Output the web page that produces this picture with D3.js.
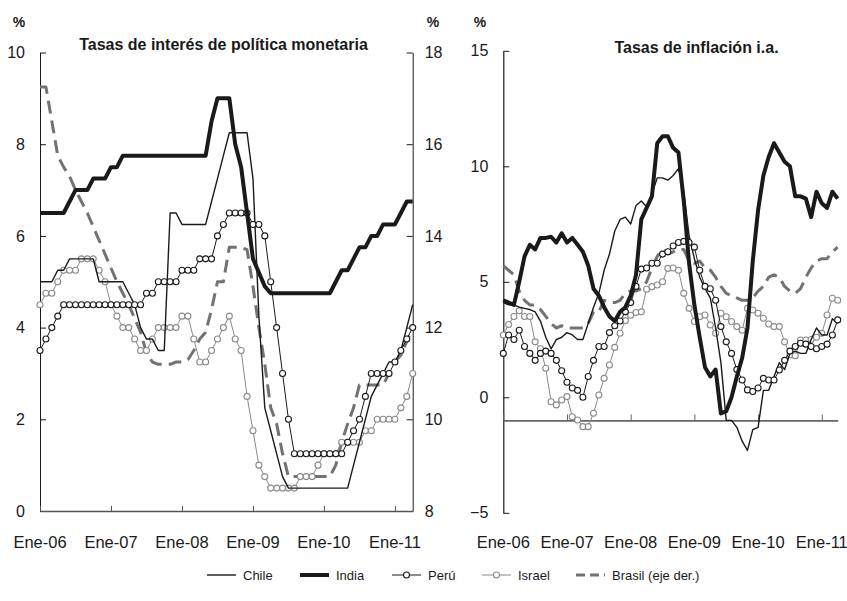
<!DOCTYPE html>
<html>
<head>
<meta charset="utf-8">
<script src="https://cdn.jsdelivr.net/npm/d3@7"></script>
<style>
  body { margin: 0; background: #fff; }
  svg { display: block; font-family: "Liberation Sans", Arial, sans-serif; }
</style>
</head>
<body>
<svg id="chart" width="847" height="601"></svg>
<script>
// Monthly observations, index 0 = Jan-2006 ... 63 = Apr-2011
const xTickMonths = [0, 12, 24, 36, 48, 60];
const xTickLabels = ["Ene-06", "Ene-07", "Ene-08", "Ene-09", "Ene-10", "Ene-11"];
const rateTicksLeft = [0, 2, 4, 6, 8, 10];
const rateTicksRight = [8, 10, 12, 14, 16, 18];
const inflationTicks = [-5, 0, 5, 10, 15];

const seriesNames = ["Chile", "India", "Perú", "Israel", "Brasil (eje der.)"];

// Policy rates (%)
const chileRate = [
  5.0, 5.0, 5.0, 5.25, 5.25, 5.5, 5.5, 5.5, 5.5, 5.5, 5.0, 5.0,
  5.0, 5.0, 5.0, 4.75, 4.5, 4.0, 3.75, 3.75, 3.5, 3.5, 6.5, 6.5,
  6.25, 6.25, 6.25, 6.25, 6.25, 6.75, 7.25, 7.75, 8.25, 8.25, 8.25, 8.25,
  7.25, 4.25, 2.25, 1.75, 1.25, 0.75, 0.5, 0.5, 0.5, 0.5, 0.5, 0.5,
  0.5, 0.5, 0.5, 0.5, 0.5, 1.0, 1.5, 2.0, 2.5, 2.75, 3.0, 3.25,
  3.25, 3.5, 4.0, 4.5
];
const indiaRate = [
  6.5, 6.5, 6.5, 6.5, 6.5, 6.75, 7.0, 7.0, 7.0, 7.25, 7.25, 7.25,
  7.5, 7.5, 7.75, 7.75, 7.75, 7.75, 7.75, 7.75, 7.75, 7.75, 7.75, 7.75,
  7.75, 7.75, 7.75, 7.75, 7.75, 8.5, 9.0, 9.0, 9.0, 8.0, 7.5, 6.5,
  5.5, 5.2, 4.9, 4.75, 4.75, 4.75, 4.75, 4.75, 4.75, 4.75, 4.75, 4.75,
  4.75, 4.75, 5.0, 5.25, 5.25, 5.5, 5.75, 5.75, 6.0, 6.0, 6.25, 6.25,
  6.25, 6.5, 6.75, 6.75
];
const peruRate = [
  3.5, 3.75, 4.0, 4.25, 4.5, 4.5, 4.5, 4.5, 4.5, 4.5, 4.5, 4.5,
  4.5, 4.5, 4.5, 4.5, 4.5, 4.5, 4.75, 4.75, 5.0, 5.0, 5.0, 5.0,
  5.25, 5.25, 5.25, 5.5, 5.5, 5.5, 6.0, 6.25, 6.5, 6.5, 6.5, 6.5,
  6.25, 6.25, 6.0, 5.0, 4.0, 3.0, 2.0, 1.25, 1.25, 1.25, 1.25, 1.25,
  1.25, 1.25, 1.25, 1.25, 1.5, 1.75, 2.0, 2.5, 3.0, 3.0, 3.0, 3.0,
  3.25, 3.5, 3.75, 4.0
];
const israelRate = [
  4.5, 4.75, 4.75, 5.0, 5.25, 5.25, 5.25, 5.5, 5.5, 5.5, 5.25, 5.0,
  4.5, 4.25, 4.0, 4.0, 3.75, 3.5, 3.5, 3.75, 4.0, 4.0, 4.0, 4.0,
  4.25, 4.25, 3.75, 3.25, 3.25, 3.5, 3.75, 4.0, 4.25, 3.75, 3.5, 2.5,
  1.75, 1.0, 0.75, 0.5, 0.5, 0.5, 0.5, 0.5, 0.75, 0.75, 0.75, 1.0,
  1.25, 1.25, 1.25, 1.5, 1.5, 1.5, 1.5, 1.75, 1.75, 2.0, 2.0, 2.0,
  2.0, 2.25, 2.5, 3.0
];
const brasilRate = [
  17.25, 17.25, 16.5, 15.75, 15.5, 15.3, 15.0, 14.75, 14.5, 14.2, 13.9, 13.6,
  13.3, 13.0, 12.75, 12.5, 12.2, 11.9, 11.45, 11.25, 11.2, 11.2, 11.2, 11.25,
  11.25, 11.3, 11.5, 11.75, 11.9, 12.4, 13.0, 13.0, 13.75, 13.75, 13.75, 13.7,
  12.9, 12.0, 11.2, 10.25, 9.9, 9.25, 8.75, 8.75, 8.75, 8.75, 8.75, 8.75,
  8.75, 8.75, 9.0, 9.5, 9.9, 10.25, 10.75, 10.75, 10.75, 10.75, 10.75, 11.0,
  11.25, 11.4, 11.7, 12.0
];

// Year-on-year inflation (%)
const chileInfl = [
  4.1, 4.0, 4.0, 3.9, 3.85, 3.8, 3.7, 3.3, 2.6, 2.1, 2.5, 2.6,
  2.8, 2.7, 2.5, 2.5, 3.2, 3.9, 4.5, 5.5, 6.2, 7.2, 7.7, 7.8,
  7.5, 8.3, 8.5, 8.25, 8.8, 9.5, 9.5, 9.4, 9.6, 9.9, 8.9, 7.0,
  6.0, 5.2, 4.7, 4.3, 3.0, 1.5, -1.0, -1.0, -1.3, -1.9, -2.3, -1.4,
  -1.3, 0.3, 0.3, 0.9, 1.5, 1.2, 1.9, 2.0, 1.9, 1.9, 2.5, 3.0,
  2.7, 2.7, 3.4, 3.2
];
const indiaInfl = [
  4.2, 4.1, 4.0, 5.0, 6.1, 6.6, 6.4, 6.9, 6.9, 6.95, 6.7, 7.1,
  6.7, 6.9, 6.6, 6.3, 5.7, 4.7, 4.4, 3.9, 3.5, 3.3, 3.7, 3.9,
  4.4, 5.3, 7.7, 8.2, 8.7, 11.0, 11.3, 11.3, 10.8, 10.6, 8.5, 5.8,
  4.0, 2.6, 1.3, 0.9, 1.2, -0.7, -0.6, 0.0, 0.9, 1.7, 3.0, 5.9,
  8.1, 9.6, 10.4, 11.0, 10.6, 10.2, 10.0, 8.7, 8.7, 8.6, 7.8, 8.9,
  8.4, 8.2, 8.9, 8.6
];
const peruInfl = [
  1.9, 2.7, 2.5, 2.9, 2.2, 1.9, 1.6, 1.9, 2.0, 1.9, 1.6, 1.15,
  0.65, 0.4, 0.3, 0.0, 0.9, 1.6, 2.2, 2.2, 2.8, 3.1, 3.3, 3.7,
  4.1, 4.8, 5.55, 5.6, 5.8, 5.8, 6.2, 6.3, 6.55, 6.7, 6.75, 6.7,
  6.5, 5.5, 4.8, 4.7, 4.2, 3.06, 2.4, 1.9, 1.2, 0.75, 0.32, 0.25,
  0.4, 0.82, 0.75, 0.75, 1.18, 1.6, 2.0, 2.2, 2.34, 2.3, 2.2, 2.1,
  2.2, 2.3, 2.7, 3.35
];
const israelInfl = [
  2.7, 3.15, 3.5, 3.75, 3.5, 3.5, 2.4, 2.1, 1.26, -0.19, -0.33, -0.12,
  0.03, -0.84, -0.98, -1.27, -1.27, -0.69, 0.1, 0.82, 1.4, 2.16, 2.77, 3.32,
  3.55, 3.67, 3.7, 4.68, 4.79, 4.86, 5.0, 5.58, 5.6, 5.5, 4.5, 3.85,
  3.28, 3.49, 3.56, 3.13, 2.77, 3.64, 3.49, 3.28, 3.06, 2.9, 3.85, 3.78,
  3.64, 3.42, 3.17, 3.06, 3.06, 2.4, 1.83, 1.8, 2.48, 2.48, 2.5, 2.6,
  2.77, 3.56, 4.29, 4.2
];
const brasilInfl = [
  5.7, 5.5, 5.3, 4.6, 4.2, 4.0, 4.0, 3.8, 3.5, 3.2, 3.0, 3.1,
  3.0, 3.0, 3.0, 3.0, 3.2, 3.7, 3.7, 4.2, 4.1, 4.1, 4.2, 4.5,
  4.6, 4.6, 4.7, 5.0, 5.6, 6.1, 6.4, 6.2, 6.3, 6.4, 6.4, 5.9,
  5.8, 5.9, 5.6, 5.5, 5.2, 4.8, 4.5, 4.4, 4.3, 4.2, 4.2, 4.3,
  4.6, 4.8, 5.2, 5.3, 5.2, 4.8, 4.6, 4.5, 4.7, 5.2, 5.6, 5.9,
  6.0, 6.0, 6.3, 6.5
];

const svg = d3.select("#chart");
const lastMonth = chileRate.length - 1;

// ---- scales ----
const xL = d3.scaleLinear().domain([0, lastMonth]).range([40, 412.7]);
const yL = d3.scaleLinear().domain([0, 10]).range([511, 52.5]);
const yLR = d3.scaleLinear().domain([8, 18]).range([511, 52.5]);
const xR = d3.scaleLinear().domain([0, lastMonth]).range([503.3, 837.7]);
const yI = d3.scaleLinear().domain([-5, 15]).range([512.8, 50.8]);

const tickFont = 16;
const ink = "#1a1a1a";
const grey = "#8a8a8a";
const dashGrey = "#727272";

function styleAxis(g, color, width) {
  g.select(".domain").attr("stroke", color).attr("stroke-width", width);
  g.selectAll(".tick line").attr("stroke", color).attr("stroke-width", 1);
  g.selectAll("text").attr("font-size", tickFont).attr("fill", ink)
    .attr("font-family", "Liberation Sans, Arial, sans-serif");
}

// ---- left panel axes ----
svg.append("g").attr("transform", "translate(40,0)")
  .call(d3.axisLeft(yL).tickValues(rateTicksLeft).tickSize(-6).tickSizeOuter(0).tickPadding(15))
  .call(g => styleAxis(g, ink, 1));
svg.append("g").attr("transform", "translate(412.7,0)")
  .call(d3.axisRight(yLR).tickValues(rateTicksRight).tickSize(-6).tickSizeOuter(0).tickPadding(12))
  .call(g => styleAxis(g, ink, 1));
svg.append("g").attr("transform", "translate(0,511)")
  .call(d3.axisBottom(xL).tickValues(xTickMonths).tickFormat("").tickSize(-5).tickSizeOuter(0))
  .call(g => styleAxis(g, "#555", 1.6));

// ---- right panel axes ----
svg.append("g").attr("transform", "translate(503.3,0)")
  .call(d3.axisLeft(yI).tickValues(inflationTicks).tickSize(-6).tickSizeOuter(0).tickPadding(15))
  .call(g => styleAxis(g, ink, 1.2));
svg.append("g").attr("transform", `translate(0,${yI(-1)})`)
  .call(d3.axisBottom(xR).tickValues(xTickMonths).tickFormat("").tickSize(-6).tickSizeOuter(0))
  .call(g => styleAxis(g, "#666", 1.8));

// month labels below both panels
[xL, xR].forEach(x => {
  svg.append("g").selectAll("text")
    .data(xTickMonths)
    .join("text")
    .attr("x", d => x(d))
    .attr("y", 548)
    .attr("text-anchor", "middle")
    .attr("font-size", 16.5)
    .attr("fill", ink)
    .text((d, i) => xTickLabels[i]);
});

// ---- titles and unit labels ----
svg.append("text").attr("x", 223.5).attr("y", 50).attr("text-anchor", "middle")
  .attr("font-size", 16).attr("font-weight", "bold").attr("fill", ink)
  .text("Tasas de interés de política monetaria");
svg.append("text").attr("x", 696.5).attr("y", 53).attr("text-anchor", "middle")
  .attr("font-size", 16).attr("font-weight", "bold").attr("fill", ink)
  .text("Tasas de inflación i.a.");
[[19, 27], [433, 27], [480, 27]].forEach(([x, y]) => {
  svg.append("text").attr("x", x).attr("y", y).attr("text-anchor", "middle")
    .attr("font-size", 14).attr("font-weight", "bold").attr("fill", ink).text("%");
});

// ---- series drawing helpers ----
function drawLine(x, y, values, opts) {
  const line = d3.line().x((d, i) => x(i)).y(d => y(d));
  svg.append("path")
    .datum(values)
    .attr("fill", "none")
    .attr("stroke", opts.color)
    .attr("stroke-width", opts.width)
    .attr("stroke-linejoin", "round")
    .attr("stroke-dasharray", opts.dash || null)
    .attr("d", line);
  if (opts.markers) {
    svg.append("g").selectAll("circle")
      .data(values)
      .join("circle")
      .attr("cx", (d, i) => x(i))
      .attr("cy", d => y(d))
      .attr("r", 3)
      .attr("fill", "#fff")
      .attr("stroke", opts.color)
      .attr("stroke-width", 1.1);
  }
}

const styles = {
  chile:  { color: ink, width: 1.4 },
  india:  { color: ink, width: 4 },
  peru:   { color: ink, width: 1, markers: true },
  israel: { color: grey, width: 1, markers: true },
  brasil: { color: dashGrey, width: 3, dash: "13,7" }
};

// left panel
drawLine(xL, yLR, brasilRate, styles.brasil);
drawLine(xL, yL, israelRate, styles.israel);
drawLine(xL, yL, chileRate, styles.chile);
drawLine(xL, yL, peruRate, styles.peru);
drawLine(xL, yL, indiaRate, styles.india);

// right panel
drawLine(xR, yI, brasilInfl, styles.brasil);
drawLine(xR, yI, israelInfl, styles.israel);
drawLine(xR, yI, chileInfl, styles.chile);
drawLine(xR, yI, peruInfl, styles.peru);
drawLine(xR, yI, indiaInfl, styles.india);

// ---- legend ----
const legendStyles = [styles.chile, styles.india, styles.peru, styles.israel, styles.brasil];
const legendX = [207, 300, 392, 482, 576];
const legendY = 575;
const legend = svg.append("g");
seriesNames.forEach((name, i) => {
  const s = legendStyles[i];
  const x0 = legendX[i];
  legend.append("line")
    .attr("x1", x0).attr("x2", x0 + 29).attr("y1", legendY).attr("y2", legendY)
    .attr("stroke", s.color).attr("stroke-width", s.width)
    .attr("stroke-dasharray", s.dash ? "9,5" : null);
  if (s.markers) {
    legend.append("circle").attr("cx", x0 + 14.5).attr("cy", legendY).attr("r", 3)
      .attr("fill", "#fff").attr("stroke", s.color).attr("stroke-width", 1.1);
  }
  legend.append("text")
    .attr("x", x0 + 36).attr("y", legendY + 4.5)
    .attr("font-size", 13).attr("fill", ink)
    .attr("font-family", "'Liberation Sans Narrow', 'Liberation Sans', Arial, sans-serif")
    .text(name);
});
</script>
</body>
</html>
